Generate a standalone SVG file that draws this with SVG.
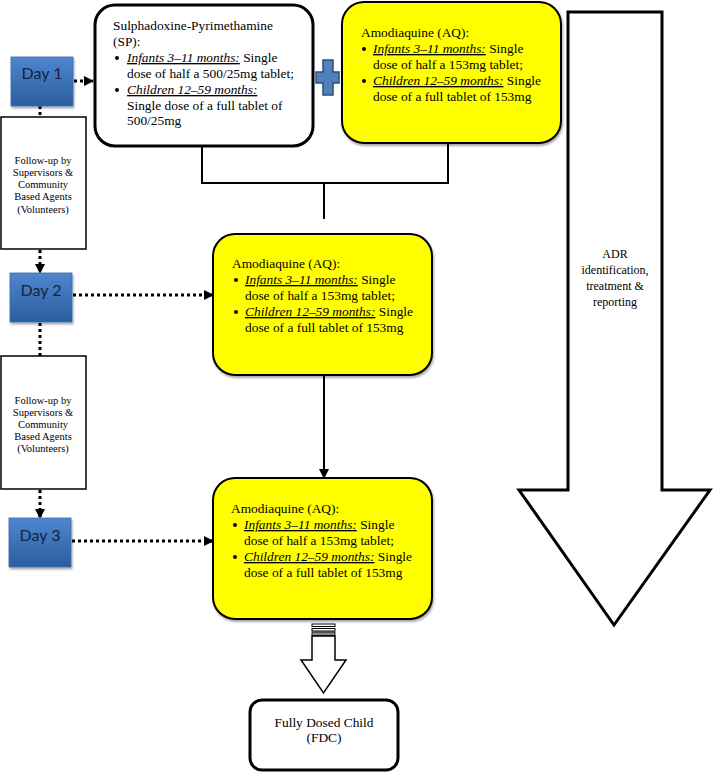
<svg xmlns="http://www.w3.org/2000/svg" width="713" height="772" viewBox="0 0 713 772">
<style>
.t{font-family:"Liberation Serif","Times New Roman",serif;font-size:13.4px;fill:#000}
.u{font-style:italic;text-decoration:underline}
.fu{font-family:"Liberation Serif","Times New Roman",serif;font-size:10.5px;fill:#000;text-anchor:middle}
.adr{font-family:"Liberation Serif","Times New Roman",serif;font-size:12px;fill:#000;text-anchor:middle}
.day{font-family:Lato,"Liberation Sans",sans-serif;font-size:16px;fill:#17223b;text-anchor:middle}
.daybox{fill:url(#dg);stroke:#3a6cb0;stroke-width:0.8;filter:url(#sh)}
.aq{fill:#ffff00;stroke:#000;stroke-width:2;filter:url(#sh)}
.fub{fill:#fff;stroke:#000;stroke-width:1.5}
.dot{fill:none;stroke:#000;stroke-width:3;stroke-dasharray:3 3}
.sol{fill:none;stroke:#000;stroke-width:2}
</style>
<defs>
<linearGradient id="dg" x1="0" y1="0" x2="0" y2="1">
<stop offset="0" stop-color="#4f86cf"/>
<stop offset="1" stop-color="#2b5d9f"/>
</linearGradient>
<filter id="sh" x="-10%" y="-10%" width="130%" height="130%">
<feDropShadow dx="1" dy="2" stdDeviation="1.2" flood-color="#000" flood-opacity="0.35"/>
</filter>
<marker id="ah" markerUnits="userSpaceOnUse" markerWidth="10" markerHeight="10" viewBox="0 0 10 10" refX="9" refY="5" orient="auto">
<path d="M0,0 L10,5 L0,10 Z" fill="#000"/>
</marker>
</defs>

<g id="connectors">
<line class="dot" x1="74" y1="81" x2="93" y2="81" marker-end="url(#ah)"/>
<line class="dot" x1="40" y1="106" x2="40" y2="117"/>
<line class="dot" x1="40" y1="250" x2="40" y2="273" marker-end="url(#ah)"/>
<line class="dot" x1="73" y1="295" x2="213" y2="295" marker-end="url(#ah)"/>
<line class="dot" x1="40" y1="323" x2="40" y2="356"/>
<line class="dot" x1="40" y1="490" x2="40" y2="518" marker-end="url(#ah)"/>
<line class="dot" x1="72" y1="541" x2="213" y2="541" marker-end="url(#ah)"/>
<polyline class="sol" points="202,146 202,183 448,183 448,143"/>
<line class="sol" x1="324" y1="183" x2="324" y2="219"/>
<line class="sol" x1="324" y1="376" x2="324" y2="478" marker-end="url(#ah)"/>
</g>

<g id="day1">
<rect class="daybox" x="11" y="57" width="62" height="49"/>
<text class="day" x="42" y="79">Day 1</text>
</g>
<g id="day2">
<rect class="daybox" x="10" y="273" width="62" height="49"/>
<text class="day" x="41" y="296">Day 2</text>
</g>
<g id="day3">
<rect class="daybox" x="9" y="518" width="62" height="49"/>
<text class="day" x="40" y="541">Day 3</text>
</g>

<g id="followup1">
<rect class="fub" x="1" y="117" width="85" height="132"/>
<text class="fu" x="43"><tspan x="43" y="164">Follow-up by</tspan><tspan x="43" y="176">Supervisors &amp;</tspan><tspan x="43" y="188">Community</tspan><tspan x="43" y="200">Based Agents</tspan><tspan x="43" y="213">(Volunteers)</tspan></text>
</g>
<g id="followup2">
<rect class="fub" x="1" y="356" width="85" height="133"/>
<text class="fu" x="43"><tspan x="43" y="404">Follow-up by</tspan><tspan x="43" y="416">Supervisors &amp;</tspan><tspan x="43" y="428">Community</tspan><tspan x="43" y="440">Based Agents</tspan><tspan x="43" y="452">(Volunteers)</tspan></text>
</g>

<g id="sp">
<rect x="95" y="5" width="218" height="141" rx="20" fill="#fff" stroke="#000" stroke-width="3"/>
<text class="t" x="113" y="30">Sulphadoxine-Pyrimethamine</text>
<text class="t" x="113" y="46">(SP):</text>
<circle cx="117" cy="58" r="2"/>
<text class="t" x="127" y="62"><tspan class="u">Infants 3–11 months:</tspan> Single</text>
<text class="t" x="127" y="78">dose of half a 500/25mg tablet;</text>
<circle cx="117" cy="90" r="2"/>
<text class="t" x="127" y="94"><tspan class="u">Children 12–59 months:</tspan></text>
<text class="t" x="127" y="110">Single dose of a full tablet of</text>
<text class="t" x="127" y="125">500/25mg</text>
</g>

<g id="plus">
<path d="M323,60 H333 V72 H339 V83 H333 V95 H323 V83 H316 V72 H323 Z" fill="#4f81bd" stroke="#2c4d75" stroke-width="1.5"/>
</g>

<g id="aq1">
<rect class="aq" x="342" y="2" width="219" height="141" rx="22"/>
<text class="t" x="361" y="37">Amodiaquine (AQ):</text>
<circle cx="364" cy="49" r="2"/>
<text class="t" x="373" y="53"><tspan class="u">Infants 3–11 months:</tspan> Single</text>
<text class="t" x="373" y="69">dose of half a 153mg tablet;</text>
<circle cx="364" cy="81" r="2"/>
<text class="t" x="373" y="85"><tspan class="u">Children 12–59 months:</tspan> Single</text>
<text class="t" x="373" y="101">dose of a full tablet of 153mg</text>
</g>

<g id="aq2">
<rect class="aq" x="213" y="234" width="219" height="141" rx="22"/>
<text class="t" x="232" y="268">Amodiaquine (AQ):</text>
<circle cx="236" cy="280" r="2"/>
<text class="t" x="245" y="284"><tspan class="u">Infants 3–11 months:</tspan> Single</text>
<text class="t" x="245" y="300">dose of half a 153mg tablet;</text>
<circle cx="236" cy="312" r="2"/>
<text class="t" x="245" y="316"><tspan class="u">Children 12–59 months:</tspan> Single</text>
<text class="t" x="245" y="332">dose of a full tablet of 153mg</text>
</g>

<g id="aq3">
<rect class="aq" x="213" y="478" width="219" height="141" rx="22"/>
<text class="t" x="231" y="513">Amodiaquine (AQ):</text>
<circle cx="235" cy="525" r="2"/>
<text class="t" x="244" y="529"><tspan class="u">Infants 3–11 months:</tspan> Single</text>
<text class="t" x="244" y="545">dose of half a 153mg tablet;</text>
<circle cx="235" cy="557" r="2"/>
<text class="t" x="244" y="561"><tspan class="u">Children 12–59 months:</tspan> Single</text>
<text class="t" x="244" y="577">dose of a full tablet of 153mg</text>
</g>

<g id="striped-arrow">
<rect x="312" y="624" width="23" height="2.5" fill="#fff" stroke="#000" stroke-width="1"/>
<rect x="312" y="628.5" width="23" height="2.5" fill="#fff" stroke="#000" stroke-width="1"/>
<rect x="312" y="632" width="23" height="3.5" fill="#888" stroke="#000" stroke-width="0.8"/>
<polygon points="312,636 335,636 335,660 346,660 323.5,693 301,660 312,660" fill="#fff" stroke="#000" stroke-width="1.5"/>
</g>

<g id="fdc">
<rect x="250" y="700" width="148" height="70" rx="12" fill="#fff" stroke="#000" stroke-width="3"/>
<text class="t" x="324" y="727" text-anchor="middle">Fully Dosed Child</text>
<text class="t" x="324" y="742" text-anchor="middle">(FDC)</text>
</g>

<g id="adr">
<polygon points="568,12 662,12 662,490 710,490 614,625 519,490 568,490" fill="#fff" stroke="#000" stroke-width="3"/>
<text class="adr"><tspan x="615" y="258">ADR</tspan><tspan x="615" y="274">identification,</tspan><tspan x="615" y="290">treatment &amp;</tspan><tspan x="615" y="306">reporting</tspan></text>
</g>
</svg>
